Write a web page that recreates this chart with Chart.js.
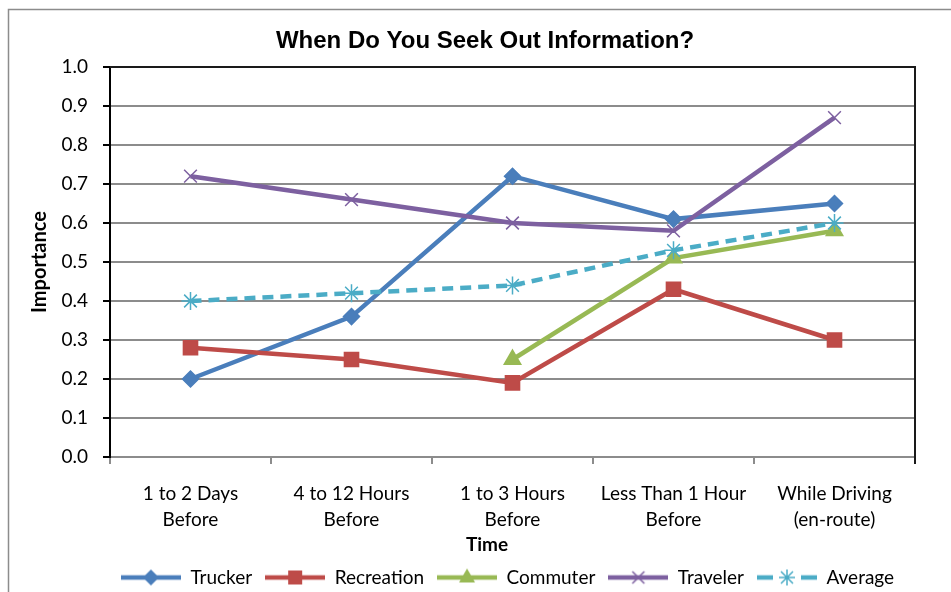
<!DOCTYPE html>
<html>
<head>
<meta charset="utf-8">
<title>When Do You Seek Out Information?</title>
<style>
    html, body { margin: 0; padding: 0; background: #fff; }
    #wrap { width: 951px; height: 592px; }
</style>
</head>
<body>
<div id="wrap">
    <canvas id="seekChart" width="951" height="592"></canvas>
</div>
<script src="https://cdn.jsdelivr.net/npm/chart.js"></script>
<script>

// values
var categories = [
    ['1 to 2 Days', 'Before'],
    ['4 to 12 Hours', 'Before'],
    ['1 to 3 Hours', 'Before'],
    ['Less Than 1 Hour', 'Before'],
    ['While Driving', '(en-route)']
];
var trucker    = [0.20, 0.36, 0.72, 0.61, 0.65];
var recreation = [0.28, 0.25, 0.19, 0.43, 0.30];
var commuter   = [null, null, 0.25, 0.51, 0.58];
var traveler   = [0.72, 0.66, 0.60, 0.58, 0.87];
var average    = [0.40, 0.42, 0.44, 0.53, 0.60];

var yMin = 0, yMax = 1, yStep = 0.1;
var xTitle = 'Time';

var labelFont = 'Lato, "Liberation Sans", sans-serif';

var series = [
    { label: 'Trucker',    data: trucker,    color: '#4a7ebb', style: 'rectRot',  radius: 8 },
    { label: 'Recreation', data: recreation, color: '#be4b48', style: 'rect',     radius: 10 },
    { label: 'Commuter',   data: commuter,   color: '#98b954', style: 'triangle', radius: 9.5 },
    { label: 'Traveler',   data: traveler,   color: '#7d60a0', style: 'crossRot', radius: 9 },
    { label: 'Average',    data: average,    color: '#4bacc6', style: 'star',     radius: 9, dash: [11, 7] }
];

// little line + marker picture for the legend, like excel does
function legendIcon(s) {
    var c = document.createElement('canvas');
    c.width = 60;
    c.height = 22;
    var g = c.getContext('2d');
    var cx = 30, cy = 11;
    g.strokeStyle = s.color;
    g.fillStyle = s.color;
    g.lineWidth = 4.5;
    g.beginPath();
    if (s.dash) {
        g.moveTo(0, cy); g.lineTo(16, cy);
        g.moveTo(44, cy); g.lineTo(60, cy);
    } else {
        g.moveTo(0, cy); g.lineTo(60, cy);
    }
    g.stroke();

    g.lineWidth = 1.5;
    g.beginPath();
    if (s.style === 'rectRot') {
        g.moveTo(cx - 8, cy); g.lineTo(cx, cy - 8); g.lineTo(cx + 8, cy); g.lineTo(cx, cy + 8);
        g.closePath(); g.fill();
    } else if (s.style === 'rect') {
        g.rect(cx - 7, cy - 7, 14, 14); g.fill();
    } else if (s.style === 'triangle') {
        g.moveTo(cx, cy - 9); g.lineTo(cx + 8, cy + 5); g.lineTo(cx - 8, cy + 5);
        g.closePath(); g.fill();
    } else if (s.style === 'crossRot') {
        g.moveTo(cx - 6, cy - 6); g.lineTo(cx + 6, cy + 6);
        g.moveTo(cx + 6, cy - 6); g.lineTo(cx - 6, cy + 6);
        g.stroke();
    } else if (s.style === 'star') {
        g.moveTo(cx - 6, cy - 6); g.lineTo(cx + 6, cy + 6);
        g.moveTo(cx + 6, cy - 6); g.lineTo(cx - 6, cy + 6);
        g.moveTo(cx, cy - 8); g.lineTo(cx, cy + 8);
        g.moveTo(cx - 8, cy); g.lineTo(cx + 8, cy);
        g.stroke();
    }
    return c;
}

var icons = series.map(legendIcon);

var datasets = series.map(function (s, i) {
    return {
        label: s.label,
        data: s.data,
        borderColor: s.color,
        backgroundColor: s.color,
        borderWidth: 4.5,
        borderDash: s.dash || [],
        pointStyle: s.style,
        pointRadius: s.radius,
        pointHoverRadius: s.radius,
        pointBorderWidth: 1.5,
        pointBackgroundColor: s.color,
        pointBorderColor: s.color,
        tension: 0,
        order: series.length - i   // later series on top, like excel
    };
});

var chartFrame = {
    id: 'chartFrame',
    afterInit: function (chart) {
        // legend box is shorter than chart.js wants it
        var lg = chart.legend;
        var fit0 = lg.fit;
        lg.fit = function () {
            fit0.apply(this, arguments);
            this.height = 37;
        };
    },
    afterLayout: function (chart) {
        chart.titleBlock.left = 20;
        chart.titleBlock.right = 950;
        chart.legend.left = 103;
        chart.legend.right = 912;
    },
    beforeDraw: function (chart) {
        var ctx = chart.ctx;
        ctx.save();
        ctx.strokeStyle = '#8c8c8c';
        ctx.lineWidth = 1.5;
        ctx.strokeRect(8.5, 9.5, 1000, 1000);
        ctx.restore();
    },
    beforeDatasetsDraw: function (chart) {
        var a = chart.chartArea;
        var ctx = chart.ctx;
        ctx.save();
        ctx.strokeStyle = '#1a1a1a';
        ctx.lineWidth = 2;
        ctx.beginPath();
        ctx.moveTo(a.left, a.top);
        ctx.lineTo(a.right, a.top);
        ctx.lineTo(a.right, a.bottom + 7);
        ctx.stroke();
        ctx.restore();
    },
    afterDraw: function (chart) {
        // x axis title sits centred on the whole chart, not on the plot
        var ctx = chart.ctx;
        ctx.save();
        ctx.fillStyle = '#000';
        ctx.font = 'bold 19px ' + labelFont;
        ctx.textAlign = 'center';
        ctx.textBaseline = 'middle';
        ctx.fillText(xTitle, 487, 545);
        ctx.restore();
    }
};

var ctx = document.getElementById('seekChart').getContext('2d');
var seekChart = new Chart(ctx, {
    type: 'line',
    data: {
        labels: categories,
        datasets: datasets
    },
    options: {
        responsive: false,
        animation: false,
        events: [],
        layout: {
            padding: { left: 20, right: 36, top: 0, bottom: 0 }
        },
        plugins: {
            title: {
                display: true,
                text: 'When Do You Seek Out Information?',
                color: '#000',
                font: { family: '"Liberation Sans", Arial, sans-serif', size: 24, weight: 'bold', lineHeight: 1.2 },
                padding: { top: 27, bottom: 11.2 }
            },
            legend: {
                position: 'bottom',
                fullSize: true,
                labels: {
                    usePointStyle: true,
                    pointStyleWidth: 60,
                    padding: 13,
                    color: '#000',
                    font: { family: labelFont, size: 19 },
                    generateLabels: function (chart) {
                        return chart.data.datasets.map(function (ds, i) {
                            return {
                                text: ds.label,
                                pointStyle: icons[i],
                                fillStyle: 'rgba(0,0,0,0)',
                                strokeStyle: 'rgba(0,0,0,0)',
                                lineWidth: 0,
                                hidden: false,
                                datasetIndex: i,
                                fontColor: '#000'
                            };
                        });
                    }
                }
            },
            tooltip: { enabled: false }
        },
        scales: {
            x: {
                offset: true,
                grid: {
                    offset: true,
                    drawOnChartArea: false,
                    color: '#8c8c8c',
                    lineWidth: 2,
                    tickLength: 7
                },
                border: { color: '#8c8c8c', width: 2 },
                ticks: {
                    color: '#000',
                    autoSkip: false,
                    maxRotation: 0,
                    padding: 17,
                    font: { family: labelFont, size: 19, lineHeight: 26 / 19 }
                },
                afterFit: function (scale) {
                    scale.height = 98;
                }
            },
            y: {
                min: yMin,
                max: yMax,
                grid: {
                    color: '#8c8c8c',
                    lineWidth: 2,
                    tickColor: '#000',
                    tickLength: 7
                },
                border: { color: '#000', width: 2 },
                ticks: {
                    stepSize: yStep,
                    color: '#000',
                    padding: 15,
                    font: { family: labelFont, size: 19 },
                    callback: function (v) { return v.toFixed(1); }
                },
                title: {
                    display: true,
                    text: 'Importance',
                    color: '#000',
                    font: { family: labelFont, size: 20, weight: 'bold', lineHeight: 1.2 },
                    padding: { top: 8, bottom: 0 }
                },
                afterFit: function (scale) {
                    scale.width = 90;
                }
            }
        }
    },
    plugins: [chartFrame]
});
</script>
</body>
</html>
